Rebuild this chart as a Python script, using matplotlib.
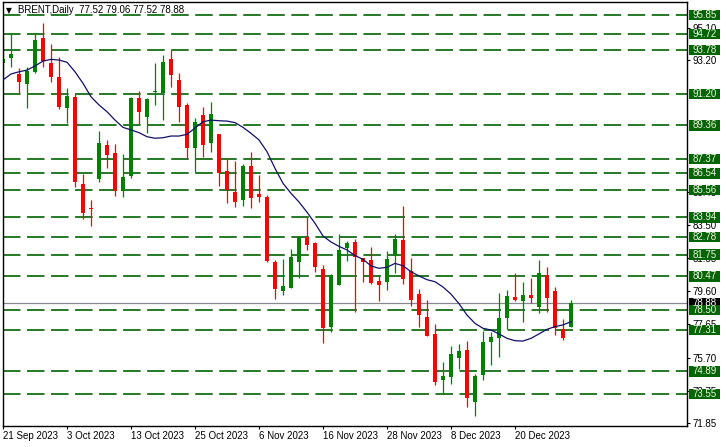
import matplotlib
matplotlib.use('Agg')
import matplotlib.pyplot as plt
import matplotlib.transforms as mtransforms
from matplotlib.patches import Rectangle

# daily candles
opens = [93.04, 93.34, 92.38, 91.79, 92.51, 94.50, 93.04, 92.22, 90.36, 91.04,
         85.91, 84.50, 86.22, 88.18, 87.71, 85.51, 86.38, 90.97, 89.87, 91.33,
         91.28, 93.26, 92.03, 90.56, 88.04, 89.97, 88.34, 88.85, 86.67, 85.44,
         84.97, 86.97, 85.32, 85.16, 81.34, 79.61, 79.81, 81.34, 82.77, 82.46,
         80.91, 77.52, 79.97, 82.16, 82.48, 81.54, 81.44, 80.20, 80.16, 81.69,
         82.62, 80.79, 79.44, 78.07, 77.09, 74.38, 74.57, 75.69, 76.14, 73.10,
         74.67, 76.63, 76.87, 78.04, 79.28, 79.00, 79.38, 78.69, 80.56, 79.61,
         77.38, 77.52]
highs = [94.67, 94.71, 92.75, 92.81, 94.79, 95.38, 94.14, 93.40, 91.54, 91.20,
         86.50, 84.97, 89.03, 88.50, 88.26, 87.67, 91.02, 91.38, 90.98, 93.04,
         93.50, 93.79, 92.46, 90.69, 89.77, 90.46, 90.75, 88.87, 87.36, 87.28,
         87.09, 87.77, 86.44, 85.25, 81.44, 81.50, 82.09, 82.85, 83.95, 82.50,
         81.14, 80.60, 82.97, 82.56, 82.66, 81.56, 82.18, 80.56, 81.97, 82.97,
         84.63, 81.54, 79.71, 79.09, 77.67, 75.42, 76.38, 76.50, 76.67, 74.73,
         77.26, 77.22, 79.51, 79.67, 80.66, 80.16, 80.40, 81.44, 81.04, 79.87,
         77.97, 79.06]
lows = [92.20, 92.81, 91.20, 90.40, 92.45, 92.81, 91.93, 90.32, 89.52, 85.72,
        83.83, 83.46, 86.04, 86.87, 85.22, 85.16, 86.24, 89.44, 88.89, 90.56,
        89.66, 91.63, 89.57, 87.38, 86.63, 87.51, 87.81, 85.81, 84.77, 84.57,
        84.63, 84.52, 84.87, 81.35, 79.14, 79.38, 79.80, 80.40, 82.03, 80.75,
        76.57, 77.22, 79.95, 81.38, 78.40, 80.16, 80.05, 79.03, 79.67, 80.69,
        80.01, 78.73, 77.52, 76.95, 74.09, 73.54, 74.14, 75.01, 72.81, 72.28,
        74.38, 75.26, 75.75, 77.38, 79.03, 77.81, 78.89, 78.34, 78.40, 77.03,
        76.73, 77.52]
closes = [93.26, 93.57, 91.93, 92.57, 94.38, 93.17, 92.18, 90.42, 91.09, 86.04,
          84.19, 84.45, 88.30, 87.63, 85.51, 86.32, 90.98, 90.16, 90.91, 91.38,
          93.09, 92.32, 90.46, 88.04, 89.57, 88.20, 90.03, 86.57, 85.56, 84.87,
          86.97, 85.10, 85.16, 81.40, 79.73, 79.91, 81.63, 82.77, 82.32, 81.04,
          77.46, 80.56, 82.03, 82.46, 81.60, 81.34, 80.10, 79.97, 81.50, 82.67,
          80.32, 79.09, 78.20, 76.99, 74.28, 74.63, 75.91, 76.10, 73.30, 74.61,
          76.60, 76.89, 78.04, 79.34, 79.09, 79.38, 79.22, 80.69, 79.22, 77.46,
          76.87, 78.88]
# moving average line as drawn on the chart
ma = [92.03, 92.38, 92.51, 92.61, 92.85, 93.14, 93.24, 93.20, 93.07, 92.51,
      91.83, 91.04, 90.56, 90.16, 89.67, 89.24, 89.09, 88.93, 88.69, 88.60,
      88.63, 88.73, 88.73, 88.83, 89.20, 89.57, 89.67, 89.63, 89.61, 89.52,
      89.24, 88.89, 88.50, 87.81, 86.83, 85.95, 85.36, 84.85, 84.25, 83.60,
      82.85, 82.50, 82.24, 82.03, 81.70, 81.48, 81.09, 80.95, 81.01, 81.24,
      81.10, 80.75, 80.50, 80.28, 80.16, 79.85, 79.43, 78.87, 78.20, 77.71,
      77.42, 77.32, 77.09, 76.83, 76.69, 76.67, 76.83, 77.09, 77.36, 77.52,
      77.62, 77.81]

levels = [95.85, 94.72, 93.78, 91.20, 89.36, 87.37, 86.54, 85.56, 83.94,
          82.78, 81.75, 80.47, 78.50, 77.31, 74.89, 73.55]
last_price = 78.88
# scale labels that are at least partly visible next to the level boxes
price_ticks = [95.10, 93.20, 85.45, 83.50, 81.55, 79.60, 77.65, 75.70,
               73.75, 71.85]
date_idx = [0, 8, 16, 24, 32, 40, 48, 56, 64]
date_labels = ['21 Sep 2023', '3 Oct 2023', '13 Oct 2023', '25 Oct 2023',
               '6 Nov 2023', '16 Nov 2023', '28 Nov 2023', '8 Dec 2023',
               '20 Dec 2023']

plt.rcParams['font.family'] = ['Liberation Sans', 'DejaVu Sans']
plt.rcParams['font.size'] = 7
plt.rcParams['lines.scale_dashes'] = False

W, H = 727, 447
fig = plt.figure(figsize=(W / 100, H / 100), dpi=100)
x0, x1, y0, y1 = 2.5, 687.3, 1.7, 426
ax = fig.add_axes([x0 / W, (H - y1) / H, (x1 - x0) / W, (y1 - y0) / H])

px_per_unit = 17.0
ax.set_ylim(95.85 - (y1 - 15) / px_per_unit, 95.85 + (15 - y0) / px_per_unit)
ax.set_xlim((x0 - 3) / 8, (x1 - 3) / 8)

green = '#008000'
red = '#ff0000'
lvl_green = '#006400'

for lv in levels:
    ax.axhline(lv, color=lvl_green, lw=1.2, linestyle=(0, (12.6, 4.7)), zorder=1)

ax.axhline(last_price, color='#888890', lw=0.9, zorder=1.5)

for i in range(len(opens)):
    o, h, l, c = opens[i], highs[i], lows[i], closes[i]
    col = green if c >= o else red
    ax.vlines(i, l, h, color=col, lw=0.9, zorder=2)
    body = max(abs(c - o), 0.07)
    ax.bar(i, body, width=0.62, bottom=min(o, c), color=col, lw=0, zorder=2)

ax.plot(range(len(ma)), ma, color='#101068', lw=0.9, zorder=3)

# axes / ticks
for s in ax.spines.values():
    s.set_color('black')
    s.set_linewidth(1)
ax.yaxis.tick_right()
ax.set_yticks(price_ticks)
ax.set_yticklabels([f'{v:.2f}' for v in price_ticks])
ax.tick_params(axis='y', length=2.3, width=0.8, pad=1.5, colors='black')
ax.set_xticks(date_idx)
ax.set_xticklabels(date_labels)
for lab in ax.get_xticklabels():
    lab.set_ha('left')
ax.tick_params(axis='x', length=2.3, width=0.8, pad=1.5, colors='black')

# price labels on the right axis
tr = mtransforms.blended_transform_factory(ax.transAxes, ax.transData)
bx = (688.5 - x0) / (x1 - x0)
bw = 31 / (x1 - x0)
bh = 10.5 / px_per_unit
tx = (692.5 - x0) / (x1 - x0)

ax.add_patch(Rectangle((bx, last_price - bh / 2), bw, bh, transform=tr,
                       fc='black', ec='none', clip_on=False, zorder=4))
ax.text(tx, last_price, f'{last_price:.2f}', transform=tr, color='white',
        va='center', ha='left', clip_on=False, zorder=4.5)
for lv in levels:
    ax.add_patch(Rectangle((bx, lv - bh / 2), bw, bh, transform=tr,
                           fc=lvl_green, ec='none', clip_on=False, zorder=5))
    ax.text(tx, lv, f'{lv:.2f}', transform=tr, color='#f4f4e8',
            va='center', ha='left', clip_on=False, zorder=6)

# title
fig.text(5.5 / W, 1 - 10.5 / H, '\u25bc', fontsize=5.5, family='DejaVu Sans',
         va='center', ha='left', color='black')
fig.text(18 / W, 1 - 10 / H, 'BRENT,Daily  77.52 79.06 77.52 78.88',
         va='center', ha='left', color='black')

fig.savefig('out.png', dpi=100)
